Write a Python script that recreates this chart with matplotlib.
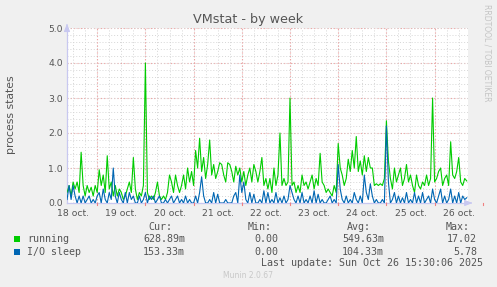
import numpy as np
import pandas as pd
import matplotlib
matplotlib.use("Agg")
import matplotlib.pyplot as plt
import matplotlib.dates as mdates
from matplotlib.patches import Rectangle

# ---------------- data ----------------
start_time = "2025-10-18 09:00"
running = [
    0.3, 0.5, 0.2, 0.6, 0.4, 0.6, 0.3,
    1.45, 0.5, 0.2, 0.5, 0.3, 0.45, 0.2, 0.5,
    0.3, 0.95, 0.5, 0.8, 0.3, 1.35, 0.4, 0.6, 0.2, 0.5, 0.2, 0.4,
    0.3, 0.1, 0.2, 0.4, 0.6, 0.3, 1.3, 0.4, 0.1, 0.3, 0.2, 0.5, 4.0, 0.3,
    0.1, 0.2, 0.1, 0.3, 0.6, 0.2, 0.1, 0.2, 0.1, 0.3, 0.8, 0.6, 0.3, 0.8, 0.5,
    0.3, 0.5, 0.8, 0.4, 1.0, 0.6, 0.9, 0.5, 1.5, 1.0, 1.85, 0.9, 1.3, 0.7, 1.1,
    1.8, 0.8, 1.1, 0.7, 0.9, 1.15, 1.1, 0.8, 0.6, 1.15, 1.1, 0.9, 0.6, 1.05, 0.8,
    1.0, 0.6, 0.9, 0.5, 0.8, 1.0, 0.6, 1.1, 0.9, 0.6, 0.9, 1.3, 0.5, 0.7, 0.4,
    0.7, 0.3, 1.0, 0.5, 0.8, 2.0, 0.5, 0.7, 0.5, 0.6, 3.0, 0.5, 0.6,
    0.3, 0.5, 0.3, 0.8, 0.5, 0.6, 0.4, 0.6, 0.8, 0.4, 0.7, 0.5, 1.42, 0.6, 0.5,
    0.3, 0.4, 0.3, 0.2, 0.5, 0.3, 1.7, 1.0, 0.8, 0.5, 0.7, 1.25, 0.9, 1.5,
    1.0, 1.9, 0.9, 1.2, 0.8, 1.35, 0.9, 1.3, 1.0, 1.0, 0.5, 0.55, 0.5, 0.55,
    0.5, 0.7, 2.35, 1.2, 0.7, 0.4, 1.0, 0.6, 0.8, 1.0, 0.5, 0.7, 1.1, 0.6,
    0.8, 0.5, 0.3, 0.8, 0.5, 0.4, 0.6, 0.5, 0.8, 0.5, 0.7, 3.0, 0.6, 0.7, 0.9,
    1.0, 0.5, 0.7, 0.8, 0.5, 1.75, 0.8, 0.7, 0.9, 1.3, 0.6, 0.5, 0.7, 0.63,
]
io_sleep = [
    0.1, 0.5, 0.1, 0.5, 0.2, 0.0, 0.2,
    0.0, 0.2, 0.0, 0.1, 0.2, 0.0, 0.1, 0.0,
    0.2, 0.3, 0.0, 0.4, 0.1, 0.0, 0.3, 0.1, 1.0, 0.2, 0.0, 0.3,
    0.1, 0.0, 0.3, 0.0, 0.3, 0.1, 0.2, 0.0, 0.0, 0.2, 0.0, 0.1, 0.3, 0.0, 0.2,
    0.1, 0.2, 0.0, 0.1, 0.2, 0.0, 0.0, 0.1, 0.0, 0.1, 0.2, 0.0, 0.1, 0.2,
    0.0, 0.1, 0.0, 0.2, 0.0, 0.1, 0.0, 0.0, 0.2, 0.0, 0.3, 0.75, 0.2, 0.0, 0.0,
    0.1, 0.0, 0.3, 0.0, 0.25, 0.0, 0.0, 0.0, 0.1, 0.0, 0.0, 0.0, 0.2, 0.3, 0.0,
    0.8, 0.3, 0.6, 0.1, 0.0, 0.3, 0.0, 0.25, 0.0, 0.0, 0.1, 0.0, 0.35, 0.0,
    0.3, 0.0, 0.1, 0.0, 0.3, 0.0, 0.15, 0.0, 0.2, 0.0, 0.1, 0.5, 0.3, 0.1,
    0.0, 0.2, 0.0, 0.3, 0.0, 0.1, 0.0, 0.2, 0.0, 0.35, 0.0, 0.25, 0.0, 0.1, 0.0,
    0.0, 0.1, 0.2, 0.0, 0.1, 0.0, 1.1, 0.4, 0.1, 0.0, 0.2, 0.0, 0.1, 0.0,
    0.3, 0.1, 0.0, 0.2, 0.0, 0.8, 0.3, 0.1, 0.55, 0.2, 0.0, 0.1, 0.0, 0.0,
    0.1, 0.0, 2.2, 0.6, 0.0, 0.1, 0.3, 0.0, 0.2, 0.0, 0.15, 0.0, 0.3, 0.0,
    0.1, 0.0, 0.3, 0.0, 0.2, 0.0, 0.3, 0.0, 0.1, 0.2, 0.0, 0.4, 0.1, 0.0, 0.2,
    0.4, 0.0, 0.2, 0.0, 0.1, 0.4, 0.0, 0.2, 0.0, 0.3, 0.0, 0.2, 0.1, 0.15,
]
day_labels = ["18 oct.", "19 oct.", "20 oct.", "21 oct.", "22 oct.",
              "23 oct.", "24 oct.", "25 oct.", "26 oct."]
first_day = "2025-10-18"
series_names = ["running", "I/O sleep"]
stats_cur = ["628.89m", "153.33m"]
stats_min = ["0.00", "0.00"]
stats_avg = ["549.63m", "104.33m"]
stats_max = ["17.02", "5.78"]
title = "VMstat - by week"
ylabel = "process states"
last_update = "Last update: Sun Oct 26 15:30:06 2025"
footer = "Munin 2.0.67"
side_text = "RRDTOOL / TOBI OETIKER"

# ---------------- layout ----------------
W, H = 497, 287
DPI = 100
BG = "#F0F0F0"
TXT = "#555555"
C_RUN = "#00CC00"
C_IO = "#0066B3"

n = len(running)
assert len(io_sleep) == n
times = pd.date_range(start_time, periods=n, freq="h")
day0 = pd.Timestamp(first_day)
noons = [day0 + pd.Timedelta(days=k, hours=12) for k in range(len(day_labels))]
midnights = [day0 + pd.Timedelta(days=k) for k in range(1, len(day_labels) + 1)]

fig = plt.figure(figsize=(W / DPI, H / DPI), dpi=DPI, facecolor=BG)

def fx(px):
    return px / W

def fy(py):
    return 1 - py / H

left_px, right_px, top_px, bottom_px = 67, 468, 28, 203
ax = fig.add_axes([fx(left_px), fy(bottom_px), fx(right_px - left_px), (bottom_px - top_px) / H])
ax.set_facecolor("white")

px_per_day = 48.2
x_left = day0 + pd.Timedelta(days=(left_px - 49) / px_per_day)
x_right = day0 + pd.Timedelta(days=(right_px - 49) / px_per_day)
ax.set_xlim(x_left, x_right)
ax.set_ylim(0, 5)

# grid
ax.xaxis.set_minor_locator(mdates.HourLocator(byhour=[0, 6, 12, 18]))
ax.xaxis.remove_overlapping_locs = False
ax.set_yticks(np.arange(0, 5.01, 1.0))
ax.set_yticks(np.arange(0, 5.01, 0.2), minor=True)
ax.yaxis.remove_overlapping_locs = False
ax.grid(which="minor", color="#D6D6D6", linestyle=(0, (1, 2)), linewidth=0.7)
ax.grid(which="major", axis="y", color="#F0A0A0", linestyle=(0, (1, 2)), linewidth=0.8)
for m in midnights:
    ax.axvline(m, color="#F0A0A0", linestyle=(0, (1, 2)), linewidth=0.8, zorder=1)
ax.set_axisbelow(True)

ax.plot(times, running, color=C_RUN, linewidth=0.8, zorder=3)
ax.plot(times, io_sleep, color=C_IO, linewidth=0.8, zorder=4)

ax.set_xticks(noons)
ax.set_xticklabels(day_labels)
ax.set_yticklabels([f"{v:.1f}" for v in np.arange(0, 5.01, 1.0)])
ax.tick_params(axis="both", which="both", length=0, labelsize=6.7, colors=TXT, pad=3)
ax.tick_params(axis="x", pad=4)

for s in ["top", "right"]:
    ax.spines[s].set_visible(False)
for s in ["left", "bottom"]:
    ax.spines[s].set_color("#C8C8F0")
    ax.spines[s].set_linewidth(0.9)

# axis arrows
ax.annotate("", xy=(1.018, 0), xycoords="axes fraction", xytext=(1.0, 0),
            arrowprops=dict(arrowstyle="-|>,head_width=0.18,head_length=0.45",
                            color="#C8C8F0", lw=0.8), annotation_clip=False)
ax.annotate("", xy=(0, 1.04), xycoords="axes fraction", xytext=(0, 1.0),
            arrowprops=dict(arrowstyle="-|>,head_width=0.18,head_length=0.45",
                            color="#C8C8F0", lw=0.8), annotation_clip=False)

# red midnight tick marks at bottom
for m in midnights:
    ax.plot([m, m], [-0.05, 0.0], color="#F08080", lw=0.8, clip_on=False, zorder=5)

# texts
fig.text(fx(248), fy(19), title, ha="center", va="center", fontsize=9.2, color=TXT)
fig.text(fx(11), fy(115), ylabel, ha="center", va="center", rotation=90, fontsize=7.8, color=TXT)
fig.text(fx(487), fy(53), side_text, ha="center", va="center", rotation=270,
         fontsize=5.5, color="#C4C4C4")

mono = "DejaVu Sans Mono"
fs = 7.2
row_y = [239, 252]
hdr_y = 227
cols_hdr = [("Cur:", 172), ("Min:", 272), ("Avg:", 371), ("Max:", 470)]
for lab, xr in cols_hdr:
    fig.text(fx(xr), fy(hdr_y), lab, ha="right", va="center", fontsize=fs, family=mono, color=TXT)
colors = [C_RUN, C_IO]
for k in range(len(series_names)):
    y = row_y[k]
    fig.patches.append(Rectangle((fx(14), fy(y + 3)), 6 / W, 6 / H, transform=fig.transFigure,
                                 facecolor=colors[k], edgecolor="none"))
    fig.text(fx(27), fy(y), series_names[k], ha="left", va="center", fontsize=fs, family=mono, color=TXT)
    fig.text(fx(185), fy(y), stats_cur[k], ha="right", va="center", fontsize=fs, family=mono, color=TXT)
    fig.text(fx(278), fy(y), stats_min[k], ha="right", va="center", fontsize=fs, family=mono, color=TXT)
    fig.text(fx(384), fy(y), stats_avg[k], ha="right", va="center", fontsize=fs, family=mono, color=TXT)
    fig.text(fx(477), fy(y), stats_max[k], ha="right", va="center", fontsize=fs, family=mono, color=TXT)
fig.text(fx(483), fy(263), last_update, ha="right", va="center", fontsize=fs, family=mono, color=TXT)
fig.text(fx(248), fy(276), footer, ha="center", va="center", fontsize=5.5, color="#C8C8C8")

fig.savefig("out.png", dpi=DPI, facecolor=BG)
